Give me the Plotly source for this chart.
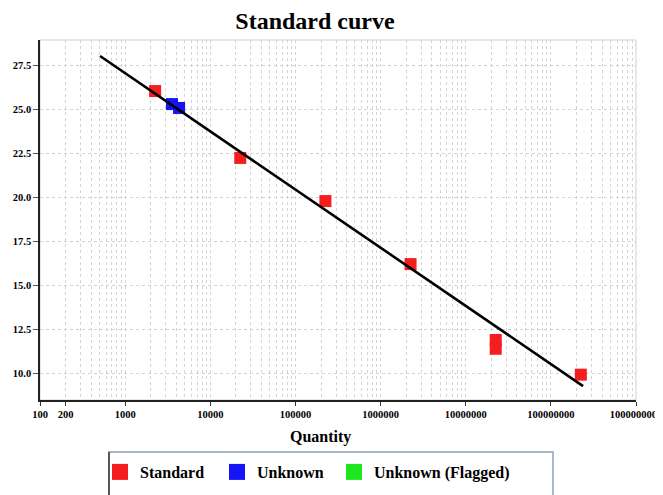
import plotly.graph_objects as go

# ---- data ----
std_qty = [2250, 22500, 225000, 2250000, 22500000, 22500000, 225000000]
std_ct = [26.02, 22.22, 19.77, 16.19, 11.88, 11.38, 9.91]
unk_qty = [3550, 4300]
unk_ct = [25.28, 25.06]
fit_qty = [507, 239000000]
fit_ct = [28.01, 9.26]
x_tickvals = [100, 200, 1000, 10000, 100000, 1000000, 10000000, 100000000, 1000000000]
x_ticktext = ["100", "200", "1000", "10000", "100000", "1000000", "10000000", "100000000", "1000000000"]
y_tickvals = [10.0, 12.5, 15.0, 17.5, 20.0, 22.5, 25.0, 27.5]
legend_names = ["Standard", "Unknown", "Unknown (Flagged)"]
legend_colors = ["#f51e1e", "#1414f5", "#1ee61e"]
legend_widths = [72, 72, 150]

SERIF = "Liberation Serif, Times New Roman, serif"
GRID = "#d4d4d4"

# page has an 8px body margin; figure is sized so it ends at the window edge
W, H = 655, 487

fig = go.Figure()

fig.add_trace(go.Scatter(x=std_qty, y=std_ct, mode="markers", showlegend=False,
                         marker=dict(symbol="square", size=12, color=legend_colors[0])))
fig.add_trace(go.Scatter(x=unk_qty, y=unk_ct, mode="markers", showlegend=False,
                         marker=dict(symbol="square", size=12, color=legend_colors[1])))
fig.add_trace(go.Scatter(x=fit_qty, y=fit_ct, mode="lines", showlegend=False,
                         line=dict(color="black", width=2.6)))

for name, col, lw in zip(legend_names, legend_colors, legend_widths):
    fig.add_trace(go.Scatter(x=[None], y=[None], mode="markers", name=name, legendwidth=lw,
                             marker=dict(symbol="square", size=16, color=col)))

fig.update_layout(
    width=W, height=H,
    margin=dict(l=32, r=27, t=32, b=95, autoexpand=False),
    paper_bgcolor="white", plot_bgcolor="white",
    font=dict(family=SERIF, color="black"),
    title=dict(text="Standard curve", x=307/W, xanchor="center",
               y=1 - 13/H, yanchor="middle", xref="container", yref="container",
               font=dict(family=SERIF, size=24, weight="bold", color="black")),
    legend=dict(orientation="h", x=(100-40)/596, xanchor="left",
                y=(400-455)/360, yanchor="top",
                font=dict(family=SERIF, size=16, weight="bold", color="black"),
                bgcolor="rgba(0,0,0,0)", borderwidth=0),
    xaxis=dict(type="log", range=[2, 9], tickvals=x_tickvals, ticktext=x_ticktext,
               automargin=False,
               showgrid=True, gridcolor=GRID, griddash="dot", gridwidth=1,
               minor=dict(dtick="D1", showgrid=True, gridcolor=GRID, griddash="dot", gridwidth=1),
               showline=True, linecolor="#222", linewidth=1.5,
               ticks="outside", ticklen=4, tickcolor="#333",
               tickfont=dict(family=SERIF, size=10.5, weight="bold", color="black"),
               zeroline=False),
    yaxis=dict(range=[8.47, 28.92], tickvals=y_tickvals, tickformat=".1f",
               automargin=False,
               showgrid=True, gridcolor=GRID, griddash="dot", gridwidth=1,
               showline=True, linecolor="#222", linewidth=1.5,
               ticks="outside", ticklen=5, tickcolor="#555",
               tickfont=dict(family=SERIF, size=10.5, weight="bold", color="black"),
               zeroline=False),
    annotations=[dict(text="Quantity", xref="paper", yref="paper",
                      x=(320-40)/596, y=(400-437)/360, xanchor="center", yanchor="middle",
                      showarrow=False,
                      font=dict(family=SERIF, size=16, weight="bold", color="black"))],
    shapes=[
        dict(type="rect", xref="paper", yref="paper", x0=0, x1=1, y0=0, y1=1,
             line=dict(color="#cfcfcf", width=1), layer="below"),
        dict(type="rect", xref="paper", yref="paper",
             x0=(109-40)/596, x1=(553-40)/596, y0=(400-505)/360, y1=(400-452)/360,
             line=dict(color="#a8b6c6", width=2), layer="above"),
        dict(type="line", xref="paper", yref="paper",
             x0=(109-40)/596, x1=(109-40)/596, y0=(400-505)/360, y1=(400-452)/360,
             line=dict(color="#555", width=2), layer="above"),
    ],
)

fig.write_html("out.html")
